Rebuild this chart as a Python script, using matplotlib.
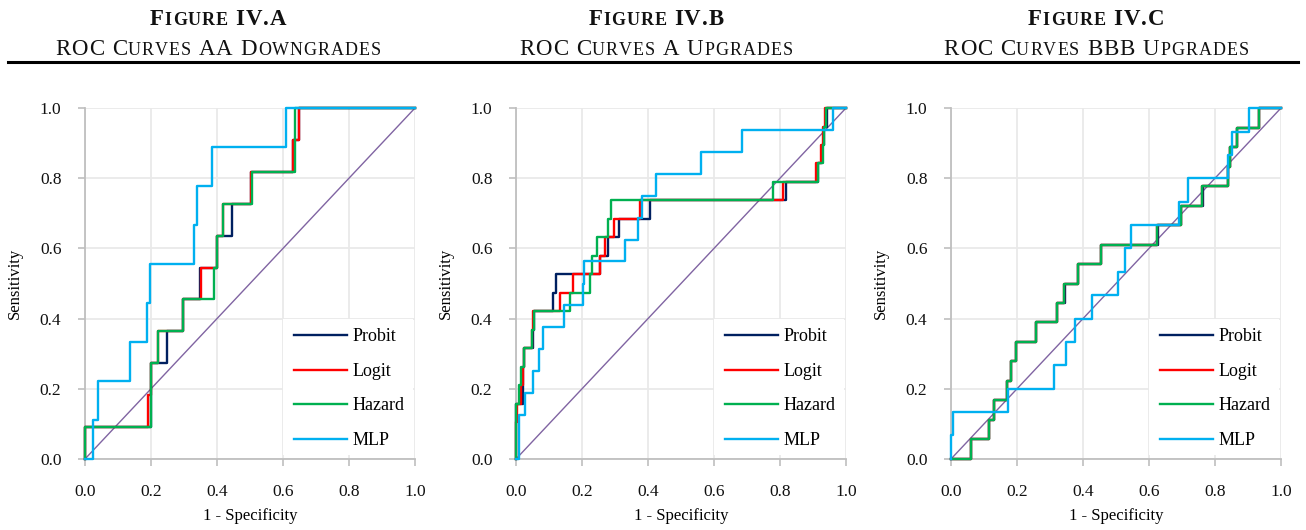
import matplotlib
matplotlib.use('Agg')
import matplotlib.pyplot as plt
from matplotlib.lines import Line2D
from matplotlib.patches import Rectangle

plt.rcParams['font.family'] = ['Liberation Serif', 'DejaVu Serif']

# ---- data (x = 1 - specificity, y = sensitivity) ----
models = ['Probit', 'Logit', 'Hazard', 'MLP']
colors = ['#002060', '#FF0000', '#00B050', '#00B0F0']
diag = [0.0, 1.0]

# Figure IV.A  AA downgrades
a_probit_x = [0, 0, 0.199, 0.247, 0.296, 0.348, 0.401, 0.444, 0.502, 0.631, 0.649, 1.0]
a_probit_y = [0, 0.091, 0.273, 0.364, 0.455, 0.545, 0.636, 0.727, 0.818, 0.909, 1.0, 1.0]
a_logit_x = [0, 0, 0.192, 0.199, 0.222, 0.296, 0.353, 0.401, 0.419, 0.502, 0.631, 0.649, 1.0]
a_logit_y = [0, 0.091, 0.182, 0.273, 0.364, 0.455, 0.545, 0.636, 0.727, 0.818, 0.909, 1.0, 1.0]
a_hazard_x = [0, 0, 0.199, 0.222, 0.296, 0.391, 0.401, 0.419, 0.505, 0.636, 1.0]
a_hazard_y = [0, 0.091, 0.273, 0.364, 0.455, 0.545, 0.636, 0.727, 0.818, 1.0, 1.0]
a_mlp_x = [0, 0.023, 0.038, 0.136, 0.189, 0.197, 0.331, 0.338, 0.384, 0.608, 1.0]
a_mlp_y = [0, 0.111, 0.222, 0.333, 0.444, 0.556, 0.667, 0.778, 0.889, 1.0, 1.0]

# Figure IV.B  A upgrades
b_probit_x = [0, 0, 0.020, 0.022, 0.023, 0.050, 0.055, 0.113, 0.121, 0.255, 0.278, 0.311,
              0.406, 0.818, 0.914, 0.926, 0.933, 0.941, 1.0]
b_probit_y = [0, 0.158, 0.211, 0.263, 0.316, 0.368, 0.421, 0.474, 0.526, 0.579, 0.632, 0.684,
              0.737, 0.789, 0.842, 0.895, 0.947, 1.0, 1.0]
b_logit_x = [0, 0, 0.004, 0.014, 0.022, 0.025, 0.048, 0.053, 0.133, 0.174, 0.255, 0.270, 0.296,
             0.376, 0.808, 0.910, 0.924, 0.930, 0.935, 1.0]
b_logit_y = [0, 0.105, 0.158, 0.211, 0.263, 0.316, 0.368, 0.421, 0.474, 0.526, 0.579, 0.632, 0.684,
             0.737, 0.789, 0.842, 0.895, 0.947, 1.0, 1.0]
b_hazard_x = [0, 0, 0.010, 0.014, 0.023, 0.048, 0.055, 0.164, 0.224, 0.229, 0.244, 0.279,
              0.287, 0.780, 0.916, 0.929, 0.933, 0.940, 1.0]
b_hazard_y = [0, 0.158, 0.211, 0.263, 0.316, 0.368, 0.421, 0.474, 0.526, 0.579, 0.632, 0.684,
              0.737, 0.789, 0.842, 0.895, 0.947, 1.0, 1.0]
b_mlp_x = [0, 0.010, 0.027, 0.050, 0.071, 0.083, 0.145, 0.202, 0.207, 0.330, 0.371, 0.383,
           0.424, 0.561, 0.684, 0.962, 1.0]
b_mlp_y = [0, 0.125, 0.188, 0.250, 0.313, 0.375, 0.438, 0.500, 0.563, 0.625, 0.688, 0.750,
           0.813, 0.875, 0.938, 1.0, 1.0]

# Figure IV.C  BBB upgrades
c_probit_x = [0, 0.060, 0.115, 0.131, 0.169, 0.182, 0.197, 0.258, 0.320, 0.344, 0.386, 0.454,
              0.628, 0.697, 0.764, 0.840, 0.845, 0.866, 0.933, 1.0]
c_probit_y = [0, 0.056, 0.111, 0.167, 0.222, 0.278, 0.333, 0.389, 0.444, 0.500, 0.556, 0.611,
              0.667, 0.722, 0.778, 0.833, 0.889, 0.944, 1.0, 1.0]
c_logit_x = [0, 0.060, 0.115, 0.131, 0.169, 0.182, 0.197, 0.258, 0.320, 0.342, 0.386, 0.454,
             0.625, 0.697, 0.762, 0.840, 0.845, 0.866, 0.933, 1.0]
c_logit_y = [0, 0.056, 0.111, 0.167, 0.222, 0.278, 0.333, 0.389, 0.444, 0.500, 0.556, 0.611,
             0.667, 0.722, 0.778, 0.833, 0.889, 0.944, 1.0, 1.0]
c_hazard_x = [0, 0.060, 0.115, 0.131, 0.169, 0.182, 0.197, 0.258, 0.320, 0.342, 0.386, 0.454,
              0.625, 0.697, 0.762, 0.840, 0.845, 0.866, 0.933, 1.0]
c_hazard_y = [0, 0.056, 0.111, 0.167, 0.222, 0.278, 0.333, 0.389, 0.444, 0.500, 0.556, 0.611,
              0.667, 0.722, 0.778, 0.833, 0.889, 0.944, 1.0, 1.0]
c_mlp_x = [0, 0, 0.006, 0.174, 0.313, 0.348, 0.376, 0.428, 0.505, 0.527, 0.545, 0.691, 0.717,
           0.840, 0.853, 0.903, 1.0]
c_mlp_y = [0, 0.067, 0.133, 0.200, 0.267, 0.333, 0.400, 0.467, 0.533, 0.600, 0.667, 0.733, 0.800,
           0.867, 0.933, 1.0, 1.0]

titles = ['Figure IV.A', 'Figure IV.B', 'Figure IV.C']
subtitles = ['ROC Curves AA Downgrades', 'ROC Curves A Upgrades', 'ROC Curves BBB Upgrades']
ticks = [0.0, 0.2, 0.4, 0.6, 0.8, 1.0]

panels = [
    [(a_probit_x, a_probit_y), (a_logit_x, a_logit_y), (a_hazard_x, a_hazard_y), (a_mlp_x, a_mlp_y)],
    [(b_probit_x, b_probit_y), (b_logit_x, b_logit_y), (b_hazard_x, b_hazard_y), (b_mlp_x, b_mlp_y)],
    [(c_probit_x, c_probit_y), (c_logit_x, c_logit_y), (c_hazard_x, c_hazard_y), (c_mlp_x, c_mlp_y)],
]

W, H = 1306, 530
fig = plt.figure(figsize=(W / 100, H / 100), dpi=100)
renderer = fig.canvas.get_renderer()


def small_caps(xc, ytop, s, big, small, weight='normal', track=1.0):
    # fake small caps: lowercase letters drawn as smaller capitals
    items = []
    for ch in s:
        if ch == ' ':
            items.append((None, big * 0.25 * 100 / 72))
            continue
        size = small if ch.islower() else big
        t = fig.text(0, 1 - ytop / H, ch.upper(), fontsize=size, fontweight=weight,
                     va='baseline', ha='left', color='#111111')
        items.append((t, t.get_window_extent(renderer=renderer).width))
    total = sum(w for _, w in items) + track * (len(items) - 1)
    x = xc - total / 2
    for t, w in items:
        if t is not None:
            t.set_x(x / W)
        x += w + track


lefts = [85, 516, 951]
centers = [218, 656, 1096]
for i, series in enumerate(panels):
    ax = fig.add_axes([lefts[i] / W, (H - 459) / H, 330 / W, 351 / H])
    ax.set_axisbelow(True)
    ax.grid(True, color='#E9E9E9', lw=1.3)
    ax.plot(diag, diag, color='#8064A2', lw=1.0, zorder=2)
    for (x, y), name, c in zip(series, models, colors):
        ax.plot(x, y, drawstyle='steps-post', color=c, lw=1.7, label=name,
                clip_on=False, zorder=3)
    ax.add_patch(Rectangle((0.60, 0.012), 0.395, 0.386, transform=ax.transAxes,
                           facecolor='white', edgecolor='none', zorder=1))
    ax.set_xlim(0, 1)
    ax.set_ylim(0, 1)
    ax.set_xticks(ticks)
    ax.set_yticks(ticks)
    ax.set_xticklabels([f'{t:.1f}' for t in ticks])
    ax.set_yticklabels([f'{t:.1f}' for t in ticks])
    for side in ['top', 'right']:
        ax.spines[side].set_visible(False)
    for side in ['left', 'bottom']:
        ax.spines[side].set_color('#BFBFBF')
        ax.spines[side].set_linewidth(1.3)
    ax.tick_params(axis='both', length=5, width=1.2, color='#BFBFBF', labelsize=12.5,
                   labelcolor='#111111')
    ax.tick_params(axis='y', pad=12)
    ax.tick_params(axis='x', pad=13)
    ax.set_xlabel('1 - Specificity', fontsize=12, va='center')
    ax.xaxis.set_label_coords(0.5, -0.162)
    ax.set_ylabel('Sensitivity', fontsize=12, va='center')
    ax.yaxis.set_label_coords(-0.212, 0.5)
    leg = ax.legend(loc='lower left', bbox_to_anchor=(0.612, 0.008), frameon=False,
                    fontsize=13, handlelength=2.9, handletextpad=0.35, labelspacing=0.97,
                    borderaxespad=0)
    leg.set_zorder(5)

    small_caps(centers[i], 25, titles[i], 16.5, 13, weight='bold')
    small_caps(centers[i], 55, subtitles[i], 16.5, 13)

fig.add_artist(Line2D([8 / W, 1298 / W], [1 - 62 / H] * 2, color='black', lw=2.2))

fig.savefig('out.png', dpi=100)
